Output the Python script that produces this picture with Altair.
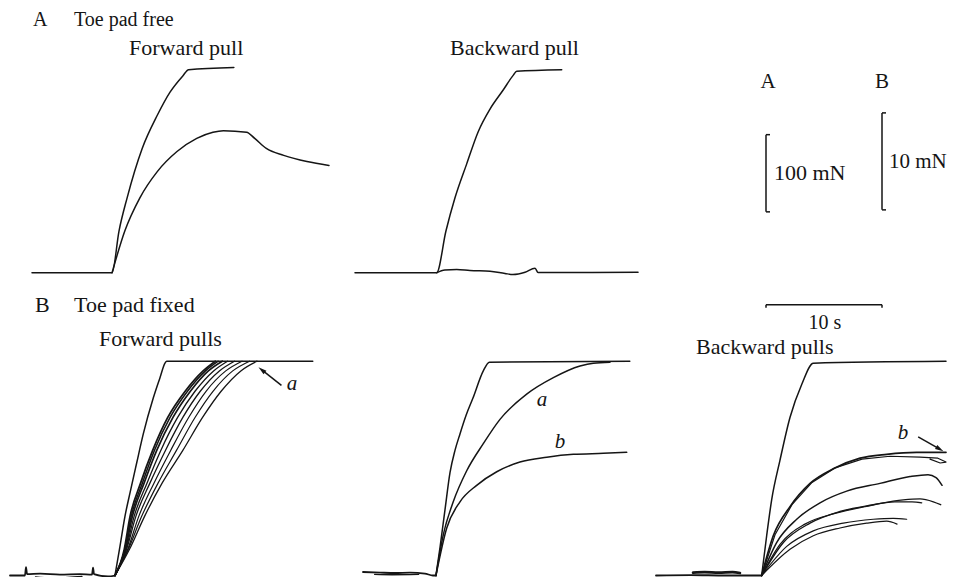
import math
import altair as alt
import pandas as pd

# ---------------- calibration (from the figure's scale bars) ----------------
SEC_PX = 11.6      # 10 s  bar = 116 px
A_MN_PX = 0.78     # 100 mN bar (records A) = 78 px
B_MN_PX = 9.8      # 10 mN bar (records B) = 98 px

# panel -> (x of t = 0, baseline y, px per mN)
panels = {
    "A_fwd": (32.0, 275.5, A_MN_PX),
    "A_bwd": (355.0, 275.5, A_MN_PX),
    "B_fwd": (10.0, 581.5, B_MN_PX),
    "B_mid": (363.0, 581.5, B_MN_PX),
    "B_bwd": (656.0, 581.5, B_MN_PX),
}

# ---------------- data: time (s) and force (mN) read from the records -------
# A  Toe pad free, forward pull
a_fwd_limit_t = [0, 6.9, 7.5, 8.2, 9.5, 10.8, 11.9, 13.0, 13.5, 17.4]
a_fwd_limit_f = [0, 0, 54, 97, 161, 204, 234, 255, 263, 266]
a_fwd_pad_t = [6.9, 8.0, 9.3, 10.8, 12.5, 14.2, 15.6, 16.5, 18.5, 19.2, 20.2, 21.7, 23.7, 25.6]
a_fwd_pad_f = [0, 54, 97, 131, 157, 174, 182, 184, 182, 174, 161, 152, 144, 139]

# A  Toe pad free, backward pull
a_bwd_limit_t = [0, 7.04, 7.84, 8.62, 9.63, 10.63, 11.64, 12.79, 13.65, 13.94, 17.82]
a_bwd_limit_f = [0, 0, 54, 97, 141, 183, 212, 237, 256, 261, 263]
a_bwd_pad_t = [7.04, 7.75, 8.77, 9.91, 11.64, 12.93, 13.62, 14.66, 15.52, 15.78, 17.67, 24.4]
a_bwd_pad_f = [0, 3.6, 4.1, 2.8, 1.9, -1.0, -2.3, 0.6, 5.8, 0.3, 0.3, 0.6]

# B  Toe pad fixed, forward pulls
b_fwd_base_t = [0, 1.29, 1.38, 1.47, 2.59, 4.31, 6.03, 7.07, 7.16, 7.24, 8.45, 9.05]
b_fwd_base_f = [0, 0, 0.87, 0.15, 0.2, 0.1, 0.15, 0.1, 0.82, 0.15, -0.1, 0]
b_fwd_base2_t = [2.2, 3.5, 5.0, 6.2]
b_fwd_base2_f = [-0.15, -0.25, -0.2, -0.1]
b_fwd_limit_t = [9.05, 9.48, 9.91, 10.34, 10.92, 11.49, 12.35, 12.93, 13.36, 13.51, 26.1]
b_fwd_limit_f = [0, 3.0, 6.1, 8.5, 11.6, 14.6, 18.3, 20.4, 21.9, 22.1, 22.1]
b_fwd_levels_f = [0, 2.7, 6.1, 9.5, 12.9, 16.3, 19.0, 21.1, 22.1]
b_fwd_pull1_t = [9.05, 9.85, 10.35, 11.25, 12.30, 13.60, 15.10, 16.65, 17.70]
b_fwd_pull2_t = [9.05, 9.90, 10.45, 11.40, 12.45, 13.80, 15.30, 16.85, 17.95]
b_fwd_pull3_t = [9.05, 9.95, 10.55, 11.55, 12.65, 14.05, 15.55, 17.10, 18.30]
b_fwd_pull4_t = [9.05, 10.00, 10.70, 11.80, 13.00, 14.45, 15.95, 17.55, 18.75]
b_fwd_pull5_t = [9.05, 10.05, 10.85, 12.05, 13.40, 14.90, 16.40, 18.05, 19.35]
b_fwd_pull6_t = [9.05, 10.15, 11.10, 12.40, 13.85, 15.40, 16.90, 18.60, 20.00]
b_fwd_pull7_t = [9.05, 10.20, 11.35, 12.75, 14.35, 15.95, 17.50, 19.20, 20.65]
b_fwd_pull8_t = [9.05, 10.30, 11.60, 13.10, 14.90, 16.60, 18.20, 19.90, 21.30]

# B  middle: limit, trace a, trace b
b_mid_base_t = [0, 1.47, 2.76, 4.05, 5.34, 6.03, 6.29]
b_mid_base_f = [0.36, 0.3, 0.26, 0.3, 0.2, 0, 0]
b_mid_base2_t = [1.0, 2.5, 4.8]
b_mid_base2_f = [0.12, 0.08, 0.12]
b_mid_limit_t = [6.29, 6.64, 7.07, 7.50, 7.93, 8.36, 8.88, 9.48, 10.37, 10.89, 23.0]
b_mid_limit_f = [0, 2.9, 6.8, 10.6, 12.9, 14.6, 16.5, 18.3, 21.1, 22.0, 22.1]
b_mid_a_t = [6.29, 6.92, 7.78, 8.94, 10.37, 11.81, 14.11, 16.41, 18.71, 19.86, 21.29]
b_mid_a_f = [0, 4.2, 7.6, 10.8, 13.6, 16.1, 18.7, 20.4, 21.6, 21.9, 22.0]
b_mid_b_t = [6.29, 7.22, 8.36, 9.80, 11.53, 13.53, 15.84, 18.13, 20.72, 22.73]
b_mid_b_f = [0, 4.9, 7.6, 9.3, 10.7, 11.7, 12.2, 12.5, 12.6, 12.7]

# B  Backward pulls
b_bwd_base_t = [0, 3.0, 6.0, 9.11]
b_bwd_base_f = [0, 0.05, 0, 0]
b_bwd_base2_t = [3.19, 4.2, 5.4, 6.6, 7.24]
b_bwd_base2_f = [0.3, 0.35, 0.3, 0.35, 0.25]
b_bwd_limit_t = [9.11, 9.54, 9.97, 10.69, 11.55, 12.56, 13.56, 25.0]
b_bwd_limit_f = [0, 4.1, 7.8, 11.9, 16.3, 19.7, 21.9, 22.1]
b_bwd_p1_t = [9.11, 10.11, 11.55, 13.28, 15.28, 17.59, 19.89, 22.47, 25.0]
b_bwd_p1_f = [0, 4.1, 7.1, 9.5, 11.0, 12.1, 12.5, 12.7, 12.7]
b_bwd_p2_t = [9.11, 10.26, 11.72, 13.45, 15.43, 17.76, 20.17, 22.76, 24.3, 25.0, 24.5, 23.62]
b_bwd_p2_f = [0, 4.2, 7.3, 9.6, 11.1, 12.0, 12.3, 12.2, 12.1, 11.7, 11.6, 12.0]
b_bwd_p3_t = [9.11, 10.4, 12.13, 14.14, 16.44, 19.31, 21.9, 23.45, 24.14, 24.66]
b_bwd_p3_f = [0, 3.4, 5.8, 7.5, 8.7, 9.5, 10.2, 10.4, 10.1, 9.3]
b_bwd_p4_t = [9.11, 10.98, 13.28, 15.86, 18.73, 21.32, 22.76, 23.91, 24.54]
b_bwd_p4_f = [0, 3.4, 5.4, 6.6, 7.3, 7.8, 7.9, 7.6, 7.3]
b_bwd_p5_t = [9.11, 10.69, 12.84, 15.43, 18.02, 20.6, 22.07, 22.91]
b_bwd_p5_f = [0, 3.2, 5.3, 6.4, 7.1, 7.6, 7.6, 7.5]
b_bwd_p6_t = [9.11, 11.27, 13.56, 16.15, 18.73, 20.46, 21.61]
b_bwd_p6_f = [0, 3.0, 4.6, 5.4, 5.8, 5.9, 5.8]
b_bwd_p7_t = [9.11, 11.55, 13.56, 15.86, 18.16, 19.89, 20.78]
b_bwd_p7_f = [0, 2.7, 4.1, 4.9, 5.4, 5.6, 5.3]

# ---------------- assemble traces -------------------------------------------
LW = 1.5
traces = [
    ("A_fwd", a_fwd_limit_t, a_fwd_limit_f, LW),
    ("A_fwd", a_fwd_pad_t, a_fwd_pad_f, LW),
    ("A_bwd", a_bwd_limit_t, a_bwd_limit_f, LW),
    ("A_bwd", a_bwd_pad_t, a_bwd_pad_f, LW),
    ("B_fwd", b_fwd_base_t, b_fwd_base_f, 1.8),
    ("B_fwd", b_fwd_base2_t, b_fwd_base2_f, 1.4),
    ("B_fwd", b_fwd_limit_t, b_fwd_limit_f, LW),
]
for tt, w in [(b_fwd_pull1_t, 1.8), (b_fwd_pull2_t, 1.5), (b_fwd_pull3_t, 1.7),
              (b_fwd_pull4_t, 1.3), (b_fwd_pull5_t, 1.3), (b_fwd_pull6_t, 1.2),
              (b_fwd_pull7_t, 1.2), (b_fwd_pull8_t, 1.3)]:
    traces.append(("B_fwd", tt, b_fwd_levels_f, w))
traces += [
    ("B_mid", b_mid_base_t, b_mid_base_f, 1.8),
    ("B_mid", b_mid_base2_t, b_mid_base2_f, 1.4),
    ("B_mid", b_mid_limit_t, b_mid_limit_f, LW),
    ("B_mid", b_mid_a_t, b_mid_a_f, LW),
    ("B_mid", b_mid_b_t, b_mid_b_f, LW),
    ("B_bwd", b_bwd_base_t, b_bwd_base_f, 1.8),
    ("B_bwd", b_bwd_base2_t, b_bwd_base2_f, 2.6),
    ("B_bwd", b_bwd_limit_t, b_bwd_limit_f, LW),
    ("B_bwd", b_bwd_p1_t, b_bwd_p1_f, 1.7),
    ("B_bwd", b_bwd_p2_t, b_bwd_p2_f, 1.2),
    ("B_bwd", b_bwd_p3_t, b_bwd_p3_f, LW),
    ("B_bwd", b_bwd_p4_t, b_bwd_p4_f, 1.4),
    ("B_bwd", b_bwd_p5_t, b_bwd_p5_f, 1.2),
    ("B_bwd", b_bwd_p6_t, b_bwd_p6_f, 1.2),
    ("B_bwd", b_bwd_p7_t, b_bwd_p7_f, 1.2),
]

rows = []
for cid, (pan, ts, fs, w) in enumerate(traces):
    x0, y0, k = panels[pan]
    mono = all(b > a for a, b in zip(ts, ts[1:]))
    for i, (t, f) in enumerate(zip(ts, fs)):
        rows.append({"cid": cid, "i": i, "x": x0 + t * SEC_PX, "y": y0 - f * k,
                     "w": w, "mono": mono})
df_lines = pd.DataFrame(rows)

# ---------------- calibration bars ------------------------------------------
barA_x, barA_bottom = 766.0, 214.0
barB_x, barB_bottom = 882.0, 212.0
barT_x, barT_y = 766.0, 308.0
lenA = 100 * A_MN_PX
lenB = 10 * B_MN_PX
lenT = 10 * SEC_PX
TICK = 4
segs = [
    (barA_x, barA_x, barA_bottom, barA_bottom - lenA),
    (barA_x, barA_x + TICK, barA_bottom, barA_bottom),
    (barA_x, barA_x + TICK, barA_bottom - lenA, barA_bottom - lenA),
    (barB_x, barB_x, barB_bottom, barB_bottom - lenB),
    (barB_x, barB_x + TICK, barB_bottom, barB_bottom),
    (barB_x, barB_x + TICK, barB_bottom - lenB, barB_bottom - lenB),
    (barT_x, barT_x + lenT, barT_y, barT_y),
    (barT_x, barT_x, barT_y, barT_y + 3),
    (barT_x + lenT, barT_x + lenT, barT_y, barT_y + 3),
]

# arrows (tail -> tip), in panel units (s, mN)
arrows = [
    ("B_fwd", (23.4, 19.6), (21.4, 21.5)),   # a
    ("B_bwd", (22.6, 14.3), (24.8, 12.8)),   # b
]
heads = []
for pan, (t1, f1), (t2, f2) in arrows:
    x0, y0, k = panels[pan]
    xa, ya = x0 + t1 * SEC_PX, y0 - f1 * k
    xb, yb = x0 + t2 * SEC_PX, y0 - f2 * k
    dx, dy = xb - xa, yb - ya
    L = math.hypot(dx, dy)
    ux, uy = dx / L, dy / L
    segs.append((xa, xb - ux * 5, ya, yb - uy * 5))
    ang = math.degrees(math.atan2(dx, -dy)) % 360
    heads.append({"x": xb - ux * 4.5, "y": yb - uy * 4.5, "ang": ang})

df_segs = pd.DataFrame(segs, columns=["x", "x2", "y", "y2"])
df_heads = pd.DataFrame(heads)

# ---------------- text ---------------------------------------------------------
texts = [
    ("A", 33, 26.5, 20, "left"),
    ("Toe pad free", 74, 26.5, 20, "left"),
    ("Forward pull", 129, 55, 22, "left"),
    ("Backward pull", 450, 55, 22, "left"),
    ("A", 768, 89, 21, "center"),
    ("B", 882, 89, 21, "center"),
    ("100 mN", 774, 182, 22, "left"),
    ("10 mN", 889, 170, 21, "left"),
    ("10 s", 825, 332, 20, "center"),
    ("B", 35, 315, 22, "left"),
    ("Toe pad fixed", 74, 315, 22, "left"),
    ("Forward pulls", 99, 350, 22, "left"),
    ("Backward pulls", 696, 358, 22, "left"),
]
df_text = pd.DataFrame(texts, columns=["label", "x", "y", "size", "align"])
italic = [("a", 292, 394), ("a", 542, 410), ("b", 560, 453), ("b", 903, 444)]
df_ital = pd.DataFrame(italic, columns=["label", "x", "y"])

INK = "#151515"
FONT = "Liberation Serif"
X = alt.X("x:Q", scale=alt.Scale(domain=[8, 948], nice=False, zero=False), axis=None)
Y = alt.Y("y:Q", scale=alt.Scale(domain=[8, 583], reverse=True, nice=False, zero=False), axis=None)

lines_mono = alt.Chart(df_lines[df_lines["mono"]]).mark_line(
    color=INK, interpolate="monotone", strokeCap="round", strokeJoin="round"
).encode(x=X, y=Y, detail="cid:N", order="i:Q", strokeWidth=alt.StrokeWidth("w:Q", scale=None))

lines_free = alt.Chart(df_lines[~df_lines["mono"]]).mark_line(
    color=INK, interpolate="linear", strokeCap="round", strokeJoin="round"
).encode(x=X, y=Y, detail="cid:N", order="i:Q", strokeWidth=alt.StrokeWidth("w:Q", scale=None))

rules = alt.Chart(df_segs).mark_rule(color=INK, strokeWidth=1.5).encode(
    x=X, y=Y, x2="x2:Q", y2="y2:Q")

heads_l = alt.Chart(df_heads).mark_point(
    shape="M0,-1L0.55,1L-0.55,1Z", filled=True, color=INK, size=70, opacity=1
).encode(x=X, y=Y, angle=alt.Angle("ang:Q", scale=None))

layers = [lines_mono, lines_free, rules, heads_l]
for al in ["left", "center"]:
    sub = df_text[df_text["align"] == al]
    for sz in sorted(sub["size"].unique()):
        part = sub[sub["size"] == sz]
        layers.append(alt.Chart(part).mark_text(
            font=FONT, fontSize=int(sz), align=al, baseline="alphabetic", color=INK
        ).encode(x=X, y=Y, text="label:N"))
layers.append(alt.Chart(df_ital).mark_text(
    font=FONT, fontSize=21, fontStyle="italic", align="center", baseline="alphabetic", color=INK
).encode(x=X, y=Y, text="label:N"))

chart = alt.layer(*layers).properties(
    width=940, height=569, padding=0, background="white",
    autosize=alt.AutoSizeParams(type="none")
).configure_view(stroke=None)

chart.save("out.html", embed_options={"renderer": "svg", "actions": False})
